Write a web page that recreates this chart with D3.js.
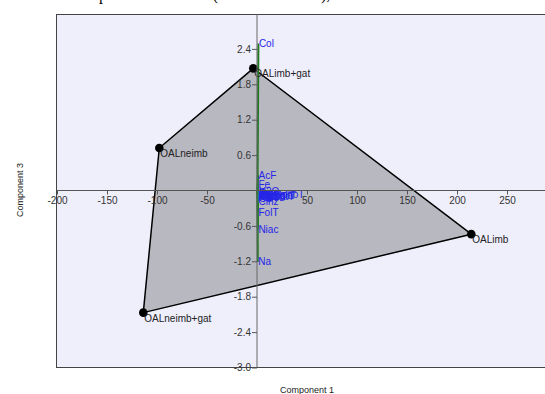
<!DOCTYPE html>
<html>
<head>
<meta charset="utf-8">
<script src="https://cdn.jsdelivr.net/npm/d3@7"></script>
<style>
  html, body { margin: 0; padding: 0; background: #fff; }
  svg { display: block; }
</style>
</head>
<body>
<svg id="chart" width="545" height="394"></svg>
<script>
// Scores of the four treatments (component 1, component 3)
const scoreNames = ["OALimb+gat", "OALimb", "OALneimb+gat", "OALneimb"];
const scoreX = [-3.7, 214.3, -113.7, -97.7];
const scoreY = [2.07, -0.74, -2.07, 0.72];

// Variable loadings (component 1, component 3)
const varNames = ["Col", "AcF", "Fe", "H2O", "Prot", "Lip", "Energia", "CarbT", "FibT", "Ca", "Mg", "K", "P", "Zn", "Tiam", "Ribof", "VitC", "AGSatT", "AGMonoT", "AGPoliT", "Cinz", "FolT", "Niac", "Na"];
const loadX = [0.9, 0.6, 0.5, 0.7, 0.8, 0.9, 0.7, 0.8, 0.6, 0.9, 0.7, 0.8, 0.9, 0.7, 0.8, 0.6, 0.9, 0.8, 0.9, 0.8, 0.6, 0.5, 0.4, 0.3];
const loadY = [2.49, 0.26, 0.11, -0.01, -0.05, -0.07, -0.09, -0.11, -0.12, -0.13, -0.08, -0.10, -0.06, -0.04, -0.08, -0.12, -0.10, -0.10, -0.06, -0.09, -0.18, -0.37, -0.66, -1.21];

// Axis ticks
const xTicks = [-200, -150, -100, -50, 50, 100, 150, 200, 250];
const xTickLabels = ["-200", "-150", "-100", "-50", "50", "100", "150", "200", "250"];
const yTicks = [-3.0, -2.4, -1.8, -1.2, -0.6, 0.6, 1.2, 1.8, 2.4];
const yTickLabels = ["-3.0", "-2.4", "-1.8", "-1.2", "-0.6", "0.6", "1.2", "1.8", "2.4"];

const svg = d3.select("#chart");
const frame = { left: 56.5, top: 14.5, right: 560, bottom: 367.5 };

const x = d3.scaleLinear().domain([-200, 290]).range([57, 547]);
const y = d3.scaleLinear().domain([-3, 3]).range([367.5, 13.5]);

// Caption line running off the top edge
const cap = svg.append("text")
  .attr("y", 0)
  .attr("font-family", "'Liberation Serif', 'Times New Roman', serif")
  .attr("font-size", 16)
  .attr("fill", "#000")
  .text("Scatter plot of the scores (OAL treatments),");
const capNode = cap.node();
const pIdx = cap.text().indexOf("p");
cap.attr("x", 99 - capNode.getSubStringLength(0, pIdx));

// Plot background
svg.append("rect")
  .attr("x", frame.left).attr("y", frame.top)
  .attr("width", frame.right - frame.left).attr("height", frame.bottom - frame.top)
  .attr("fill", "#efeffc").attr("stroke", "#444").attr("stroke-width", 1);

svg.append("defs").append("clipPath").attr("id", "plotclip")
  .append("rect").attr("x", frame.left).attr("y", frame.top)
  .attr("width", frame.right - frame.left).attr("height", frame.bottom - frame.top);

const plot = svg.append("g").attr("clip-path", "url(#plotclip)");

// Convex hull of the treatment scores
const pts = scoreX.map((v, i) => [x(v), y(scoreY[i])]);
const hull = d3.polygonHull(pts);
plot.append("path")
  .attr("d", "M" + hull.join("L") + "Z")
  .attr("fill", "#b8b8c0")
  .attr("stroke", "#000")
  .attr("stroke-width", 1.5)
  .attr("stroke-linejoin", "round");

// Axes through the origin
const xAxis = d3.axisBottom(x).tickValues(xTicks)
  .tickFormat((d, i) => xTickLabels[i]).tickSize(4).tickPadding(2).tickSizeOuter(0);
const gx = svg.append("g").attr("transform", `translate(0,${y(0)})`).call(xAxis);
gx.select(".domain").attr("d", `M${frame.left},0H${frame.right}`).attr("stroke", "#555");
gx.selectAll(".tick line").attr("stroke", "#555");
gx.selectAll(".tick text").attr("fill", "#333").attr("font-size", 10)
  .attr("font-family", "'Liberation Sans', Arial, sans-serif");

const yAxis = d3.axisLeft(y).tickValues(yTicks)
  .tickFormat((d, i) => yTickLabels[i]).tickSize(5).tickPadding(1).tickSizeOuter(0);
const gy = svg.append("g").attr("transform", `translate(${x(0)},0)`).call(yAxis);
gy.select(".domain").attr("d", `M0,${frame.top}V${frame.bottom}`).attr("stroke", "#666");
gy.selectAll(".tick line").attr("stroke", "#555");
gy.selectAll(".tick text").attr("fill", "#333").attr("font-size", 10)
  .attr("font-family", "'Liberation Sans', Arial, sans-serif");

// Loading vectors
plot.append("g").selectAll("line").data(varNames).join("line")
  .attr("x1", x(0) + 0.5).attr("y1", y(0))
  .attr("x2", (d, i) => x(loadX[i]) + 0.5).attr("y2", (d, i) => y(loadY[i]))
  .attr("stroke", "#1f7a1f").attr("stroke-width", 2);

plot.append("g").selectAll("text").data(varNames).join("text")
  .attr("x", (d, i) => x(loadX[i]) + 1)
  .attr("y", (d, i) => y(loadY[i]))
  .attr("dy", "0.35em")
  .attr("font-family", "'Liberation Sans', Arial, sans-serif")
  .attr("font-size", 10)
  .attr("fill", "#2525e8")
  .text(d => d);

// Treatment points and names
plot.append("g").selectAll("circle").data(scoreNames).join("circle")
  .attr("cx", (d, i) => x(scoreX[i])).attr("cy", (d, i) => y(scoreY[i]))
  .attr("r", 4.3).attr("fill", "#000");

plot.append("g").selectAll("text").data(scoreNames).join("text")
  .attr("x", (d, i) => x(scoreX[i]) + 1)
  .attr("y", (d, i) => y(scoreY[i]) + 9)
  .attr("font-family", "'Liberation Sans', Arial, sans-serif")
  .attr("font-size", 10)
  .attr("fill", "#222")
  .text(d => d);

// Axis titles
svg.append("text")
  .attr("x", 307).attr("y", 393)
  .attr("text-anchor", "middle")
  .attr("font-family", "'Liberation Sans', Arial, sans-serif")
  .attr("font-size", 9).attr("fill", "#222")
  .text("Component 1");

svg.append("text")
  .attr("transform", "translate(23,190) rotate(-90)")
  .attr("text-anchor", "middle")
  .attr("font-family", "'Liberation Sans', Arial, sans-serif")
  .attr("font-size", 9).attr("fill", "#222")
  .text("Component 3");
</script>
</body>
</html>
